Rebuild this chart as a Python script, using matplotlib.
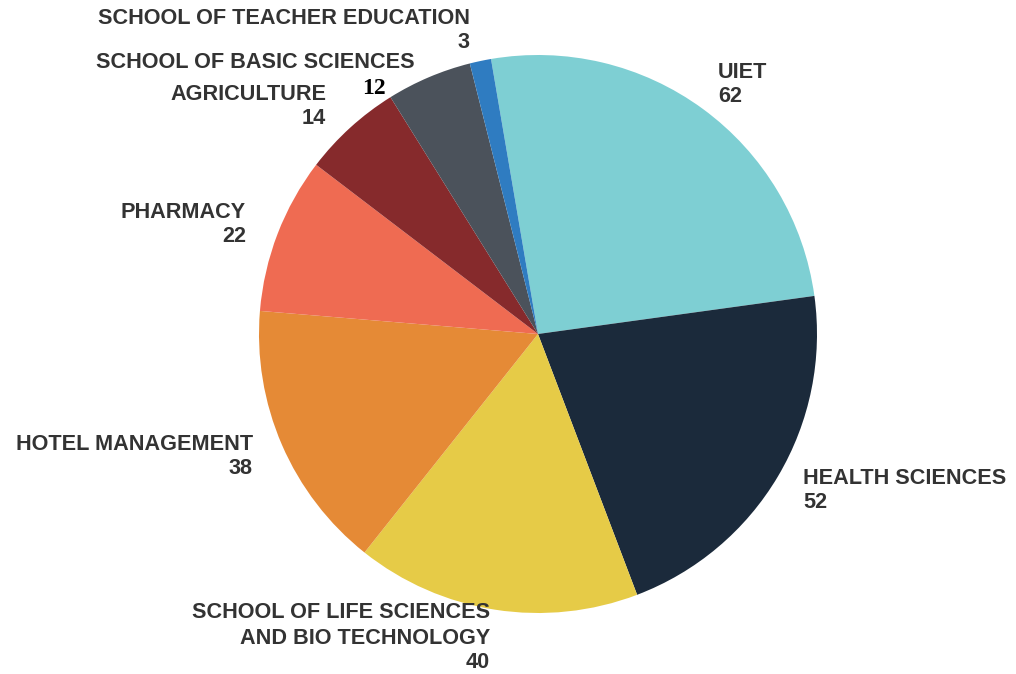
import numpy as np
import matplotlib
matplotlib.use('Agg')
import matplotlib.pyplot as plt

names = ['UIET', 'HEALTH SCIENCES', 'SCHOOL OF LIFE SCIENCES\nAND BIO TECHNOLOGY',
         'HOTEL MANAGEMENT', 'PHARMACY', 'AGRICULTURE',
         'SCHOOL OF BASIC SCIENCES', 'SCHOOL OF TEACHER EDUCATION']
counts = [62, 52, 40, 38, 22, 14, 12, 3]
colors = ['#7ecfd3', '#1b2a3b', '#e6cb47', '#e58a36', '#ef6b52', '#862a2c',
          '#4b525b', '#2f7cc1']

W, H = 1016, 674
fig = plt.figure(figsize=(W / 100, H / 100), dpi=100)
ax = fig.add_axes([0, 0, 1, 1])

cx, cy, r = 538, H - 334, 279
ax.pie(counts, colors=colors, startangle=99.7, counterclock=False,
       center=(cx, cy), radius=r, frame=True,
       wedgeprops=dict(linewidth=0))
ax.set_xlim(0, W)
ax.set_ylim(0, H)
ax.set_aspect('equal')
ax.axis('off')

# label anchor points (pixel coords from the top), alignment
label_pos = [
    (718, 72, 'left'),
    (803, 478, 'left'),
    (490, 613, 'right'),
    (253, 445, 'right'),
    (246, 213, 'right'),
    (326, 95, 'right'),
    (415, 62, 'right'),
    (470, 18, 'right'),
]
txt = dict(family='Liberation Sans', fontsize=15.6, fontweight='bold',
           color='#333333')
lh = 24
for name, n, (x, y, ha) in zip(names, counts, label_pos):
    lines = name.split('\n')
    for i, line in enumerate(lines):
        ax.text(x, H - (y + 26 * i), line, ha=ha, va='center', **txt)
    if n == 12:
        ax.text(374, H - 88, str(n), ha='center', va='center',
                family='Liberation Serif', fontweight='bold', fontsize=17,
                color='black')
    else:
        yn = y + 26 * (len(lines) - 1) + lh
        ax.text(x, H - yn, str(n), ha=ha, va='center', **txt)

fig.savefig('out.png', dpi=100, facecolor='white')
